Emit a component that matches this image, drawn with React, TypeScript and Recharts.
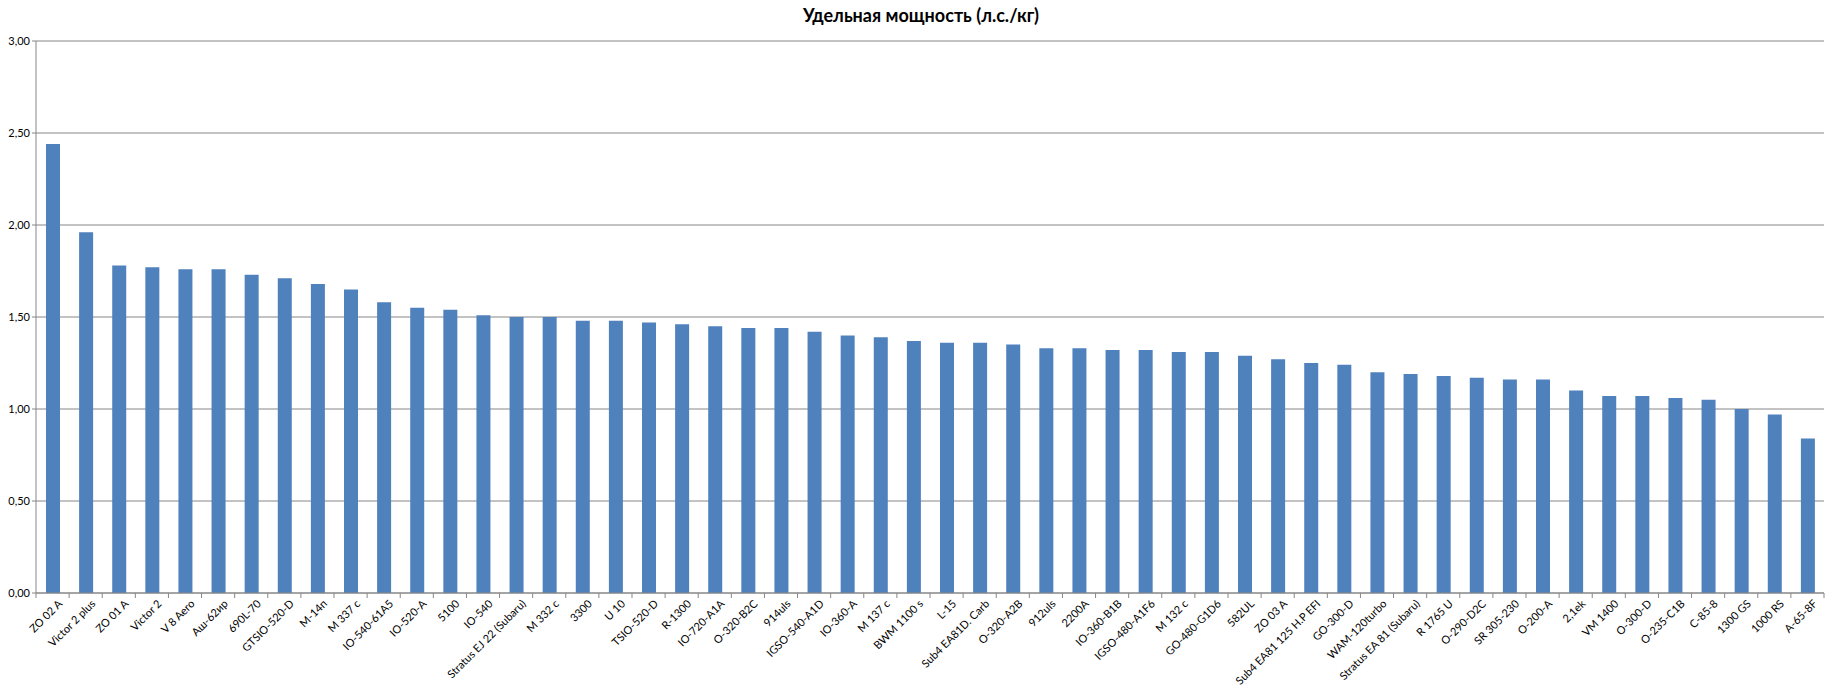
import { BarChart, Bar, XAxis, YAxis, CartesianGrid } from "recharts";

const CHART_W = 1836;
const CHART_H = 688;
const Y_AXIS_W = 36;
const RIGHT_M = 12;

const ENGINES = [
  "ZO 02 A", "Victor 2 plus", "ZO 01 A", "Victor 2", "V 8 Aero", "Аш-62ир",
  "690L-70", "GTSIO-520-D", "M-14п", "M 337 c", "IO-540-61A5", "IO-520-A",
  "5100", "IO-540", "Stratus EJ 22 (Subaru)", "M 332 c", "3300", "U 10",
  "TSIO-520-D", "R-1300", "IO-720-A1A", "O-320-B2C", "914uls", "IGSO-540-A1D",
  "IO-360-A", "M 137 c", "BWM 1100 s", "L-15", "Sub4 EA81D. Carb", "O-320-A2B",
  "912uls", "2200A", "IO-360-B1B", "IGSO-480-A1F6", "M 132 c", "GO-480-G1D6",
  "582UL", "ZO 03 A", "Sub4 EA81 125 H.P EFI", "GO-300-D", "WAM-120turbo",
  "Stratus EA 81 (Subaru)", "R 1765 U", "O-290-D2C", "SR 305-230", "O-200-A",
  "2,1ek", "VM 1400", "O-300-D", "O-235-C1B", "C-85-8", "1300 GS", "1000 RS",
  "A-65-8F",
];

const POWER_TO_WEIGHT = [
  2.44, 1.96, 1.78, 1.77, 1.76, 1.76,
  1.73, 1.71, 1.68, 1.65, 1.58, 1.55,
  1.54, 1.51, 1.50, 1.50, 1.48, 1.48,
  1.47, 1.46, 1.45, 1.44, 1.44, 1.42,
  1.40, 1.39, 1.37, 1.36, 1.36, 1.35,
  1.33, 1.33, 1.32, 1.32, 1.31, 1.31,
  1.29, 1.27, 1.25, 1.24, 1.20, 1.19,
  1.18, 1.17, 1.16, 1.16, 1.10, 1.07,
  1.07, 1.06, 1.05, 1.00, 0.97, 0.84,
];

const Y_TICKS = [0, 0.5, 1, 1.5, 2, 2.5, 3];

const data = ENGINES.map((name, i) => ({ name, value: POWER_TO_WEIGHT[i] }));

const BAND = (CHART_W - Y_AXIS_W - RIGHT_M) / ENGINES.length;
const FONT = "Lato, 'Open Sans', sans-serif";

const fmt = (v: number) => v.toFixed(2).replace(".", ",");

// excel-style tick marks sit between categories, so draw them with the label
function EngineTick(props: any) {
  const { x, y, payload, index } = props;
  return (
    <g transform={`translate(${x},${y})`}>
      <line x1={-BAND / 2} x2={-BAND / 2} y1={0} y2={5} stroke="#868686" />
      {index === ENGINES.length - 1 && (
        <line x1={BAND / 2} x2={BAND / 2} y1={0} y2={5} stroke="#868686" />
      )}
      <text
        x={0}
        y={0}
        transform="translate(5,6) rotate(-45)"
        textAnchor="end"
        dy="0.7em"
        fontSize={11}
        fontFamily={FONT}
        fill="#000"
      >
        {payload.value}
      </text>
    </g>
  );
}

export default function App() {
  return (
    <div style={{ position: "fixed", top: 0, left: 0, width: CHART_W, height: CHART_H, background: "#fff" }}>
      <div
        style={{
          position: "absolute",
          top: 4,
          left: 921,
          transform: "translateX(-50%)",
          whiteSpace: "nowrap",
          fontFamily: FONT,
          fontWeight: 700,
          fontSize: 18,
          color: "#000",
        }}
      >
        Удельная мощность (л.с./кг)
      </div>
      <BarChart
        width={CHART_W}
        height={CHART_H}
        data={data}
        margin={{ top: 41, right: RIGHT_M, left: 0, bottom: 0 }}
        barCategoryGap={0}
      >
        <CartesianGrid horizontal vertical={false} stroke="#868686" />
        <XAxis
          dataKey="name"
          interval={0}
          height={95}
          tickLine={false}
          tickSize={0}
          tickMargin={0}
          axisLine={{ stroke: "#868686" }}
          tick={<EngineTick />}
        />
        <YAxis
          width={Y_AXIS_W}
          domain={[0, 3]}
          ticks={Y_TICKS}
          tickFormatter={fmt}
          axisLine={{ stroke: "#868686" }}
          tickLine={{ stroke: "#868686" }}
          tickSize={4}
          tick={{ fontSize: 11, fill: "#000", fontFamily: FONT }}
        />
        <Bar dataKey="value" fill="#4F81BD" barSize={14} isAnimationActive={false} />
      </BarChart>
    </div>
  );
}
